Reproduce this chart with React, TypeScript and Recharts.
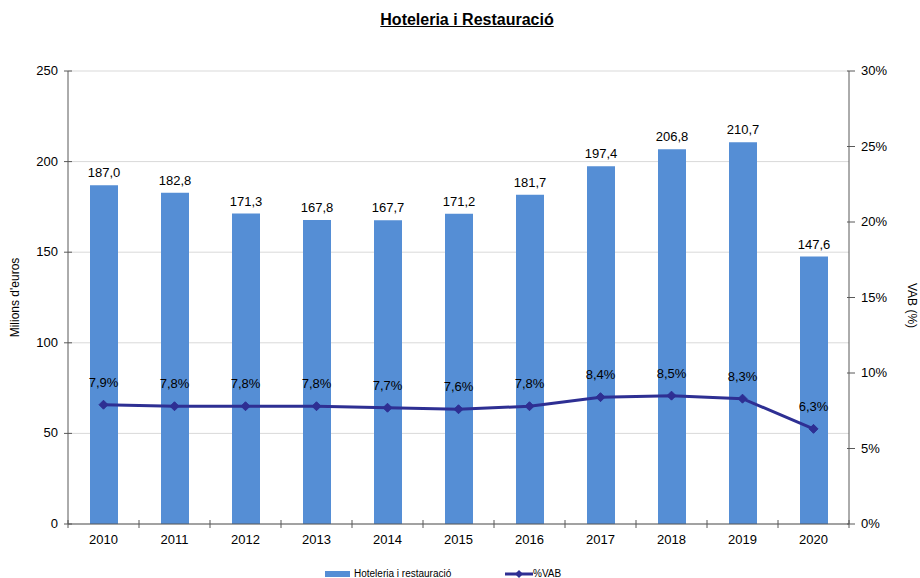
import React from "react";
import {
  ComposedChart,
  Bar,
  Line,
  XAxis,
  YAxis,
  CartesianGrid,
  Legend,
  LabelList,
} from "recharts";

const years = ["2010", "2011", "2012", "2013", "2014", "2015", "2016", "2017", "2018", "2019", "2020"];
const milions = [187.0, 182.8, 171.3, 167.8, 167.7, 171.2, 181.7, 197.4, 206.8, 210.7, 147.6];
const vab = [7.9, 7.8, 7.8, 7.8, 7.7, 7.6, 7.8, 8.4, 8.5, 8.3, 6.3];
const leftTicks = [0, 50, 100, 150, 200, 250];
const rightTicks = [0, 5, 10, 15, 20, 25, 30];

const data = years.map((y, i) => ({ year: y, milions: milions[i], vab: vab[i] }));

const FONT = '"Liberation Sans", Arial, sans-serif';
const BAR = "#558ED5";
const LINE = "#2E2F93";
const AXIS = "#595959";

const comma = (v: number, d: number) => v.toFixed(d).replace(".", ",");

const LeftTick = (props: any) => {
  const { x, y, payload } = props;
  return (
    <g>
      <line x1={x + 6} x2={x + 14} y1={y} y2={y} stroke={AXIS} />
      <text x={x} y={y} dy={4} textAnchor="end" fontSize={13} fill="#000" fontFamily={FONT}>
        {payload.value}
      </text>
    </g>
  );
};

const RightTick = (props: any) => {
  const { x, y, payload } = props;
  return (
    <g>
      <line x1={x - 14} x2={x - 6} y1={y} y2={y} stroke={AXIS} />
      <text x={x} y={y} dy={4} textAnchor="start" fontSize={13} fill="#000" fontFamily={FONT}>
        {payload.value + "%"}
      </text>
    </g>
  );
};

const BottomTick = (props: any) => {
  const { x, y, payload, index } = props;
  const band = 781 / years.length;
  const axisY = y - 8;
  return (
    <g>
      <line x1={x - band / 2} x2={x - band / 2} y1={axisY - 4} y2={axisY + 4} stroke={AXIS} />
      {index === years.length - 1 && (
        <line x1={x + band / 2} x2={x + band / 2} y1={axisY - 4} y2={axisY + 4} stroke={AXIS} />
      )}
      <text x={x} y={y} dy={12} textAnchor="middle" fontSize={13} fill="#000" fontFamily={FONT}>
        {payload.value}
      </text>
    </g>
  );
};

const Diamond = (props: any) => {
  const { cx, cy } = props;
  if (cx == null || cy == null) return null;
  const r = 4.5;
  return (
    <polygon
      points={`${cx},${cy - r} ${cx + r},${cy} ${cx},${cy + r} ${cx - r},${cy}`}
      fill={LINE}
      stroke={LINE}
    />
  );
};

const LegendContent = () => (
  <div style={{ position: "relative", height: 14, fontFamily: FONT, fontSize: 10, color: "#000" }}>
    <div style={{ position: "absolute", left: 325, top: 4, display: "flex", alignItems: "center" }}>
      <span style={{ display: "inline-block", width: 25, height: 6, background: BAR, marginRight: 4 }} />
      <span>Hoteleria i restauració</span>
    </div>
    <div style={{ position: "absolute", left: 505, top: 4, display: "flex", alignItems: "center" }}>
      <svg width={28} height={10}>
        <line x1={0} x2={28} y1={5} y2={5} stroke={LINE} strokeWidth={3} />
        <polygon points="14,1 18,5 14,9 10,5" fill={LINE} />
      </svg>
      <span>%VAB</span>
    </div>
  </div>
);

export default function App() {
  return (
    <div style={{ position: "absolute", left: 0, top: 0, width: 920, height: 578, background: "#fff" }}>
      <div
        style={{
          position: "absolute",
          top: 11,
          left: 0,
          width: 934,
          textAlign: "center",
          fontFamily: FONT,
          fontWeight: "bold",
          fontSize: 16,
          textDecoration: "underline",
        }}
      >
        Hoteleria i Restauració
      </div>
      <ComposedChart
        width={920}
        height={578}
        data={data}
        margin={{ top: 71, right: 0, bottom: 0, left: 0 }}
        barCategoryGap={0}
      >
        <CartesianGrid vertical={false} stroke="#d9d9d9" yAxisId="left" />
        <XAxis
          dataKey="year"
          height={40}
          tickLine={false}
          tickSize={4}
          tickMargin={4}
          stroke={AXIS}
          tick={<BottomTick />}
          interval={0}
        />
        <YAxis
          yAxisId="left"
          orientation="left"
          width={68}
          domain={[0, 250]}
          ticks={leftTicks}
          tickLine={false}
          tickSize={4}
          tickMargin={6}
          stroke={AXIS}
          tick={<LeftTick />}
          label={(p: any) => {
            const vb = p.viewBox;
            const cx = 16;
            const cy = vb.y + vb.height / 2;
            return (
              <text x={cx} y={cy} transform={`rotate(-90 ${cx} ${cy})`} textAnchor="middle" dominantBaseline="middle" fontSize={12} fontFamily={FONT} fill="#000">
                Milions d'euros
              </text>
            );
          }}
        />
        <YAxis
          yAxisId="right"
          orientation="right"
          width={71}
          domain={[0, 30]}
          ticks={rightTicks}
          tickLine={false}
          tickSize={4}
          tickMargin={8}
          stroke={AXIS}
          tick={<RightTick />}
          label={(p: any) => {
            const vb = p.viewBox;
            const cx = 911;
            const cy = vb.y + vb.height / 2 + 8;
            return (
              <text x={cx} y={cy} transform={`rotate(90 ${cx} ${cy})`} textAnchor="middle" dominantBaseline="middle" fontSize={12} fontFamily={FONT} fill="#000">
                VAB (%)
              </text>
            );
          }}
        />
        <Legend verticalAlign="bottom" height={14} content={<LegendContent />} />
        <Bar yAxisId="left" dataKey="milions" fill={BAR} barSize={28} isAnimationActive={false}>
          <LabelList
            dataKey="milions"
            position="top"
            offset={8}
            formatter={(v: any) => comma(Number(v), 1)}
            style={{ fontSize: 13, fontFamily: FONT, fill: "#000" }}
          />
        </Bar>
        <Line
          yAxisId="right"
          dataKey="vab"
          stroke={LINE}
          strokeWidth={3}
          dot={<Diamond />}
          activeDot={false}
          isAnimationActive={false}
        >
          <LabelList
            dataKey="vab"
            position="top"
            offset={18}
            formatter={(v: any) => comma(Number(v), 1) + "%"}
            style={{ fontSize: 13, fontFamily: FONT, fill: "#000" }}
          />
        </Line>
      </ComposedChart>
    </div>
  );
}
